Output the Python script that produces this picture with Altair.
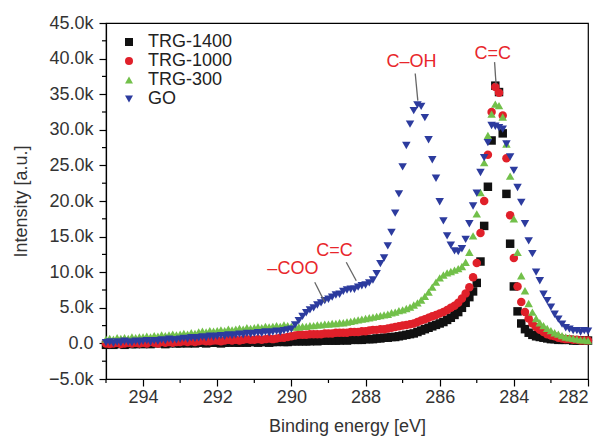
import altair as alt
import pandas as pd

FONT = "Liberation Sans"

# Binding energy grid (eV), 0.1 eV steps from 295.0 down to 282.0
energy = [round(295.0 - 0.1 * i, 1) for i in range(131)]

series_names = ["TRG-1400", "TRG-1000", "TRG-300", "GO"]
series_colors = ["#111111", "#e0202a", "#72c04a", "#2c3b9e"]
series_shapes = ["square", "circle", "triangle-up", "triangle-down"]

# Intensities in thousands (k)
trg1400 = [
    -0.2, -0.1, -0.2, 0.0, -0.1, -0.2, 0.0, -0.1, -0.1, 0.0,
    -0.1, 0.0, -0.1, 0.0, 0.1, 0.0, -0.1, 0.0, 0.1, 0.0,
    0.0, 0.1, 0.0, 0.1, 0.0, 0.1, 0.1, 0.0, 0.1, 0.1,
    0.1, 0.0, 0.1, 0.1, 0.2, 0.1, 0.1, 0.2, 0.1, 0.2,
    0.2, 0.1, 0.2, 0.2, 0.1, 0.2, 0.2, 0.3, 0.2, 0.2,
    0.3, 0.3, 0.3, 0.3, 0.3, 0.3, 0.4, 0.3, 0.4, 0.4,
    0.4, 0.4, 0.4, 0.4, 0.5, 0.4, 0.5, 0.5, 0.5, 0.5,
    0.6, 0.6, 0.6, 0.7, 0.7, 0.8, 0.8, 0.9, 0.9, 1.0,
    1.1, 1.2, 1.3, 1.4, 1.6, 1.8, 2.0, 2.2, 2.4, 2.6,
    2.8, 3.0, 3.3, 3.6, 4.0, 4.4, 5.0, 5.7, 6.5, 7.3,
    8.5, 11.5, 16.5, 22.0, 28.5, 36.2, 35.3, 29.5, 21.0, 14.0,
    8.0, 4.5, 2.8, 2.0, 1.5, 1.2, 1.0, 0.9, 0.8, 0.7,
    0.6, 0.6, 0.5, 0.5, 0.5, 0.5, 0.4, 0.4, 0.4, 0.4,
    0.4,
]
trg1000 = [
    0.0, -0.1, 0.0, 0.1, -0.1, 0.0, 0.1, 0.0, 0.1, 0.0,
    0.1, 0.0, 0.2, 0.1, 0.0, 0.2, 0.1, 0.2, 0.1, 0.2,
    0.2, 0.3, 0.2, 0.3, 0.2, 0.3, 0.4, 0.3, 0.3, 0.4,
    0.4, 0.3, 0.4, 0.5, 0.4, 0.5, 0.4, 0.5, 0.6, 0.5,
    0.5, 0.6, 0.5, 0.6, 0.7, 0.6, 0.7, 0.8, 0.8, 0.9,
    1.0, 1.1, 1.2, 1.2, 1.2, 1.3, 1.3, 1.3, 1.3, 1.4,
    1.4, 1.4, 1.5, 1.5, 1.5, 1.5, 1.6, 1.6, 1.6, 1.7,
    1.7, 1.8, 1.9, 1.9, 2.0, 2.0, 2.1, 2.2, 2.3, 2.4,
    2.5, 2.6, 2.7, 2.8, 3.0, 3.2, 3.4, 3.6, 3.8, 4.0,
    4.2, 4.4, 4.7, 5.0, 5.3, 5.7, 6.3, 7.0, 7.9, 9.3,
    11.3, 15.5, 20.0, 26.5, 32.5, 36.0, 35.2, 32.0, 26.0, 18.0,
    12.0, 8.0, 5.8, 4.4, 3.5, 2.8, 2.3, 1.9, 1.6, 1.3,
    1.1, 1.0, 0.8, 0.7, 0.6, 0.6, 0.5, 0.5, 0.4, 0.4,
    0.4,
]
trg300 = [
    0.6, 0.7, 0.6, 0.8, 0.7, 0.8, 0.7, 0.9, 0.8, 0.9,
    0.9, 1.0, 0.9, 1.1, 1.0, 1.2, 1.1, 1.2, 1.3, 1.2,
    1.3, 1.4, 1.3, 1.5, 1.4, 1.6, 1.7, 1.6, 1.8, 1.7,
    1.8, 1.9, 1.8, 2.0, 1.9, 2.0, 2.1, 2.0, 2.2, 2.1,
    2.2, 2.3, 2.2, 2.4, 2.3, 2.4, 2.5, 2.4, 2.6, 2.5,
    2.4, 2.3, 2.3, 2.4, 2.4, 2.5, 2.5, 2.6, 2.6, 2.7,
    2.7, 2.8, 2.8, 2.9, 2.9, 3.0, 3.1, 3.2, 3.3, 3.4,
    3.5, 3.6, 3.7, 3.8, 3.9, 4.0, 4.1, 4.3, 4.4, 4.6,
    4.7, 4.9, 5.1, 5.4, 5.7, 6.1, 6.6, 7.2, 7.9, 8.6,
    9.2, 9.6, 9.9, 10.1, 10.3, 10.5, 10.8, 11.4, 12.8, 15.1,
    18.2, 21.2, 25.4, 29.2, 32.2, 33.6, 33.4, 31.8, 28.0, 23.5,
    17.5, 12.8, 9.5, 7.4, 5.6, 4.4, 3.5, 2.9, 2.5, 2.1,
    1.8, 1.5, 1.3, 1.1, 0.9, 0.8, 0.7, 0.6, 0.5, 0.5,
    0.4,
]
go = [
    0.1, 0.2, 0.0, 0.2, 0.1, 0.3, 0.2, 0.1, 0.3, 0.2,
    0.3, 0.4, 0.2, 0.4, 0.3, 0.5, 0.4, 0.6, 0.5, 0.5,
    0.6, 0.7, 0.6, 0.8, 0.7, 0.8, 0.9, 0.8, 1.0, 0.9,
    1.0, 1.1, 1.0, 1.2, 1.1, 1.2, 1.3, 1.2, 1.4, 1.3,
    1.4, 1.5, 1.4, 1.6, 1.5, 1.6, 1.7, 1.6, 1.8, 1.9,
    2.0, 2.6, 3.2, 3.8, 4.3, 4.7, 5.0, 5.4, 5.7, 6.0,
    6.2, 6.5, 6.8, 6.9, 7.3, 7.5, 7.6, 7.6, 7.9, 8.1,
    8.2, 8.5, 8.9, 9.8, 11.2, 12.0, 13.7, 15.6, 18.3, 21.0,
    24.8, 27.8, 30.8, 32.7, 33.5, 33.3, 31.7, 28.6, 25.8, 23.2,
    19.9, 17.2, 15.1, 13.8, 13.0, 12.9, 13.3, 14.6, 16.8, 19.3,
    21.1, 24.0, 26.1, 28.2, 30.6, 30.5, 30.3, 30.1, 28.0, 26.2,
    24.3, 21.9, 19.8, 16.8, 14.4, 12.6, 10.0, 8.8, 6.9, 6.0,
    5.1, 4.1, 3.4, 2.7, 2.2, 2.0, 1.8, 1.8, 1.6, 1.8,
    1.7,
]

# Axis ticks
x_major = [294, 292, 290, 288, 286, 284, 282]
x_minor = [295, 293, 291, 289, 287, 285, 283]
y_major = [-5000, 0, 5000, 10000, 15000, 20000, 25000, 30000, 35000, 40000, 45000]
y_minor = [-2500, 2500, 7500, 12500, 17500, 22500, 27500, 32500, 37500, 42500]

# Peak annotations
ann_text = ["C\u2013OH", "C=C", "\u2013COO", "C=C"]
ann_x = [286.76, 284.57, 289.96, 288.84]
ann_y = [39.5, 40.7, 10.4, 13.0]
lead_x1 = [286.66, 284.52, 289.37, 288.52]
lead_y1 = [37.9, 39.5, 8.6, 11.4]
lead_x2 = [286.59, 284.48, 289.10, 288.25]
lead_y2 = [34.1, 36.4, 5.8, 8.8]

PLOT_W, PLOT_H = 482, 356

rows = []
for name, vals in zip(series_names, [trg1400, trg1000, trg300, go]):
    for e, v in zip(energy, vals):
        rows.append({"energy": e, "intensity": v * 1000, "series": name})
df = pd.DataFrame(rows)

ann_df = pd.DataFrame({"text": ann_text, "x": ann_x, "y": [v * 1000 for v in ann_y]})
lead_df = pd.DataFrame({
    "x1": lead_x1, "y1": [v * 1000 for v in lead_y1],
    "x2": lead_x2, "y2": [v * 1000 for v in lead_y2],
})
xminor_df = pd.DataFrame({"xm": x_minor})
yminor_df = pd.DataFrame({"ym": y_minor})

xscale = alt.Scale(domain=[282, 295], reverse=True, nice=False, zero=False)
yscale = alt.Scale(domain=[-5000, 45000], nice=False, zero=False)

axis_common = dict(
    grid=False, domainColor="black", tickColor="black", domainWidth=1.2,
    tickWidth=1.2, tickSize=7, labelFont=FONT, labelFontSize=18, labelColor="#333333",
    titleFont=FONT, titleFontSize=18, titleFontWeight="normal", titleColor="#333333",
)

legend = alt.Legend(
    title=None, orient="none", legendX=14, legendY=10, labelFont=FONT,
    labelFontSize=18, labelColor="#222222", symbolSize=64, symbolStrokeWidth=0,
    rowPadding=1, labelOffset=10, padding=0,
)

x_axis = alt.Axis(
    values=x_major, format="d", labelPadding=2,
    title="Binding energy [eV]", titlePadding=11, orient="bottom", **axis_common,
)
y_axis = alt.Axis(
    values=y_major,
    labelExpr="datum.value == 0 ? '0.0' : format(datum.value / 1000, '.1f') + 'k'",
    labelPadding=6, title="Intensity [a.u.]", titlePadding=18, orient="left",
    **axis_common,
)

points = alt.Chart(df).mark_point(filled=True, size=72, opacity=1).encode(
    x=alt.X("energy:Q", scale=xscale, axis=x_axis),
    y=alt.Y("intensity:Q", scale=yscale, axis=y_axis),
    color=alt.Color("series:N", scale=alt.Scale(domain=series_names, range=series_colors),
                    legend=legend),
    shape=alt.Shape("series:N", scale=alt.Scale(domain=series_names, range=series_shapes),
                    legend=legend),
)

# minor ticks, placed through the shared scales, drawn just outside the frame
x_minor_ticks = alt.Chart(xminor_df).mark_rule(color="black", strokeWidth=1.2).encode(
    x=alt.X("xm:Q", scale=xscale, axis=x_axis),
    y=alt.value(PLOT_H),
    y2=alt.value(PLOT_H + 4),
)
y_minor_ticks = alt.Chart(yminor_df).mark_rule(color="black", strokeWidth=1.2).encode(
    y=alt.Y("ym:Q", scale=yscale, axis=y_axis),
    x=alt.value(-4),
    x2=alt.value(0),
)

leads = alt.Chart(lead_df).mark_rule(color="#666666", strokeWidth=1.3).encode(
    x=alt.X("x1:Q", scale=xscale, axis=x_axis),
    y=alt.Y("y1:Q", scale=yscale, axis=y_axis),
    x2="x2:Q",
    y2="y2:Q",
)

labels = alt.Chart(ann_df).mark_text(
    color="#e8262b", font=FONT, fontSize=18, align="center", baseline="middle"
).encode(
    x=alt.X("x:Q", scale=xscale, axis=x_axis),
    y=alt.Y("y:Q", scale=yscale, axis=y_axis),
    text="text:N",
)

chart = alt.layer(points, x_minor_ticks, y_minor_ticks, leads, labels).properties(
    width=PLOT_W, height=PLOT_H,
    autosize=alt.AutoSizeParams(type="none"),
    padding={"left": 106, "top": 23, "right": 17, "bottom": 58},
).configure_view(stroke="black", strokeWidth=1.2)

chart.save("out.html", embed_options={"renderer": "svg", "actions": False})
